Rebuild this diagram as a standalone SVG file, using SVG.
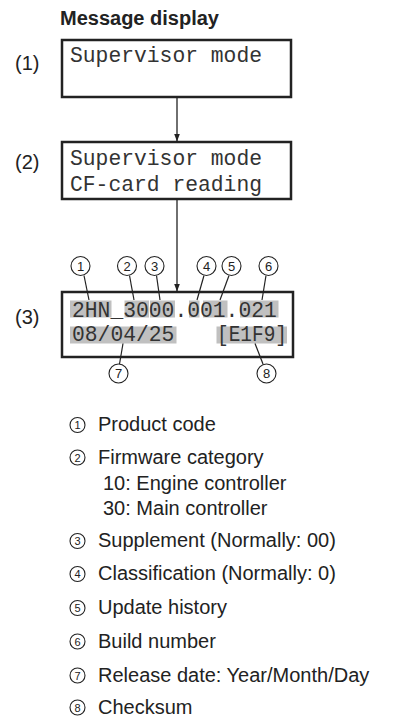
<svg xmlns="http://www.w3.org/2000/svg" width="393" height="719" viewBox="0 0 393 719">
<style>
.title{font-family:"Liberation Sans",Arial,sans-serif;font-weight:bold;font-size:20px;fill:#222}
.lab{font-family:"Liberation Sans",Arial,sans-serif;font-size:20px;fill:#222}
.mono{font-family:"Liberation Mono","Courier New",monospace;font-size:21.33px;fill:#333}
.box{fill:#fff;stroke:#222;stroke-width:2.5}
.hl{fill:#c0c0c0}
.conn{stroke:#222;stroke-width:1.3;fill:none}
.lead{stroke:#222;stroke-width:1.2;fill:none}
.cc{fill:#fff;stroke:#222;stroke-width:1.1}
.cn{font-family:"Liberation Sans",Arial,sans-serif;font-size:13px;fill:#222;text-anchor:middle}
.ln{font-family:"Liberation Sans",Arial,sans-serif;font-size:11px;fill:#222;text-anchor:middle}
.item{font-family:"Liberation Sans",Arial,sans-serif;font-size:20px;fill:#222}
</style>
<defs>
<marker id="ah" markerWidth="8" markerHeight="8" refX="8" refY="4" orient="auto" markerUnits="userSpaceOnUse">
<path d="M0,1 L8,4 L0,7 Z" fill="#222"/>
</marker>
</defs>
<text class="title" x="60" y="25">Message display</text>

<g id="step1">
<text class="lab" x="15" y="70">(1)</text>
<rect class="box" x="62" y="40" width="229" height="57"/>
<text class="mono" x="70" y="62">Supervisor mode</text>
</g>

<g id="step2">
<text class="lab" x="15" y="169">(2)</text>
<rect class="box" x="62" y="142" width="229" height="57"/>
<text class="mono" x="70" y="165">Supervisor mode</text>
<text class="mono" x="70" y="191">CF-card reading</text>
</g>

<g id="step3">
<text class="lab" x="15" y="324">(3)</text>
<rect class="box" x="62" y="292" width="231" height="65"/>
<rect class="hl" x="70" y="300.5" width="41.5" height="17"/>
<rect class="hl" x="124.5" y="300.5" width="24.5" height="17"/>
<rect class="hl" x="150" y="300.5" width="25" height="17"/>
<rect class="hl" x="189" y="300.5" width="10.5" height="17"/>
<rect class="hl" x="203" y="300.5" width="24.5" height="17"/>
<rect class="hl" x="240" y="300.5" width="38.5" height="17"/>
<rect class="hl" x="70" y="326.5" width="106.5" height="17"/>
<rect class="hl" x="216.5" y="326.5" width="70.5" height="17"/>
<text class="mono" x="72" y="316.5">2HN_3000.001.021</text>
<text class="mono" x="72" y="341">08/04/25</text>
<text class="mono" x="217" y="341" textLength="70" lengthAdjust="spacingAndGlyphs">[E1F9]</text>
</g>

<g id="connectors">
<line class="conn" x1="177" y1="97" x2="177" y2="141.5" marker-end="url(#ah)"/>
<line class="conn" x1="177" y1="199" x2="177" y2="291.5" marker-end="url(#ah)"/>
<line class="lead" x1="84" y1="275.5" x2="89" y2="300"/>
<line class="lead" x1="129.5" y1="275.5" x2="134" y2="300"/>
<line class="lead" x1="156.5" y1="275.5" x2="160" y2="300"/>
<line class="lead" x1="204" y1="275.5" x2="197" y2="300"/>
<line class="lead" x1="229" y1="275.5" x2="220" y2="300"/>
<line class="lead" x1="266" y1="275.5" x2="262" y2="300"/>
<line class="lead" x1="123" y1="343.5" x2="119.5" y2="364"/>
<line class="lead" x1="255" y1="343.5" x2="263" y2="364"/>
</g>

<g id="callouts">
<g id="c1"><circle class="cc" cx="80.5" cy="266" r="9.5"/><text class="cn" x="80.5" y="270.5">1</text></g>
<g id="c2"><circle class="cc" cx="127" cy="266" r="9.5"/><text class="cn" x="127" y="270.5">2</text></g>
<g id="c3"><circle class="cc" cx="154.5" cy="266" r="9.5"/><text class="cn" x="154.5" y="270.5">3</text></g>
<g id="c4"><circle class="cc" cx="206.5" cy="266" r="9.5"/><text class="cn" x="206.5" y="270.5">4</text></g>
<g id="c5"><circle class="cc" cx="231.5" cy="266" r="9.5"/><text class="cn" x="231.5" y="270.5">5</text></g>
<g id="c6"><circle class="cc" cx="268.5" cy="266" r="9.5"/><text class="cn" x="268.5" y="270.5">6</text></g>
<g id="c7"><circle class="cc" cx="118.5" cy="373.5" r="9.5"/><text class="cn" x="118.5" y="378">7</text></g>
<g id="c8"><circle class="cc" cx="266.5" cy="373.5" r="9.5"/><text class="cn" x="266.5" y="378">8</text></g>
</g>

<g id="legend">
<circle class="cc" cx="77.5" cy="425" r="7.5"/><text class="ln" x="77.5" y="429">1</text>
<text class="item" x="98" y="431">Product code</text>
<circle class="cc" cx="77.5" cy="457.5" r="7.5"/><text class="ln" x="77.5" y="461.5">2</text>
<text class="item" x="98" y="463.5">Firmware category</text>
<text class="item" x="103" y="490">10: Engine controller</text>
<text class="item" x="103" y="515">30: Main controller</text>
<circle class="cc" cx="77.5" cy="541" r="7.5"/><text class="ln" x="77.5" y="545">3</text>
<text class="item" x="98" y="547">Supplement (Normally: 00)</text>
<circle class="cc" cx="77.5" cy="574" r="7.5"/><text class="ln" x="77.5" y="578">4</text>
<text class="item" x="98" y="580">Classification (Normally: 0)</text>
<circle class="cc" cx="77.5" cy="608" r="7.5"/><text class="ln" x="77.5" y="612">5</text>
<text class="item" x="98" y="614">Update history</text>
<circle class="cc" cx="77.5" cy="641.5" r="7.5"/><text class="ln" x="77.5" y="645.5">6</text>
<text class="item" x="98" y="647.5">Build number</text>
<circle class="cc" cx="77.5" cy="675.5" r="7.5"/><text class="ln" x="77.5" y="679.5">7</text>
<text class="item" x="98" y="681.5">Release date: Year/Month/Day</text>
<circle class="cc" cx="77.5" cy="707.5" r="7.5"/><text class="ln" x="77.5" y="711.5">8</text>
<text class="item" x="98" y="713.5">Checksum</text>
</g>
</svg>
